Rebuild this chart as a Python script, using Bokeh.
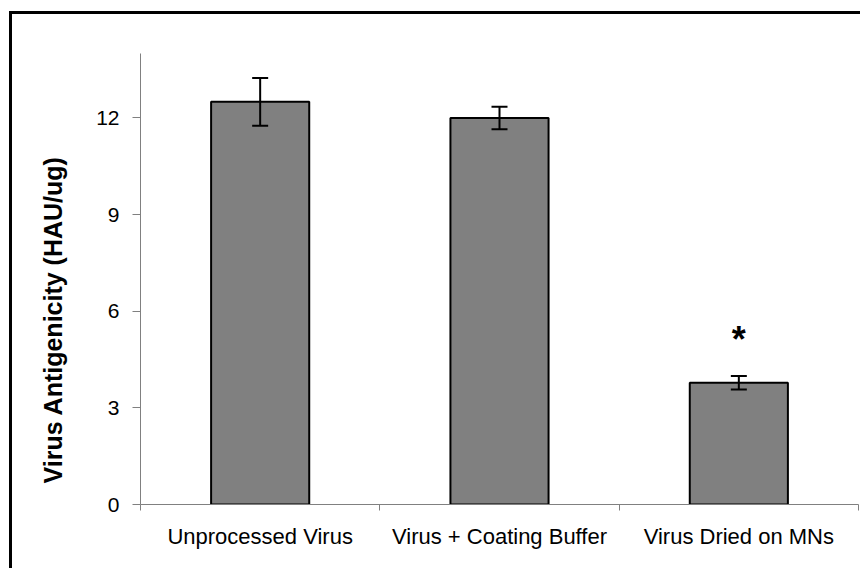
import numpy as np
from bokeh.plotting import figure
from bokeh.models import (Range1d, FixedTicker, ColumnDataSource, Whisker, TeeHead, Title)
from bokeh.core.properties import value
from bokeh.embed import file_html
from bokeh.resources import INLINE

# ---- data ----
categories = ["Unprocessed Virus", "Virus + Coating Buffer", "Virus Dried on MNs"]
means = [12.5, 12.0, 3.78]
errors = [0.74, 0.35, 0.21]
markers = ["", "", "*"]
y_ticks = [0, 3, 6, 9, 12]
y_label = "Virus Antigenicity (HAU/ug)"

FONT = "Liberation Sans"

xc = np.arange(len(categories)) + 0.5
m = np.array(means)
e = np.array(errors)
src = ColumnDataSource(dict(x=xc, top=m, upper=m + e, lower=m - e,
                            mark=markers, mark_y=m + e + 1.12))

p = figure(width=851, height=557, x_range=Range1d(0, 3), y_range=Range1d(0, 14),
           output_backend="svg", toolbar_location=None,
           min_border_left=128, min_border_right=5, min_border_top=39, min_border_bottom=67,
           margin=(11, 0, 0, 9),
           styles={"border-left": "3px solid black", "border-top": "3px solid black"})
p.outline_line_color = None
p.xgrid.visible = False
p.ygrid.visible = False
p.background_fill_color = "white"

p.vbar(x="x", top="top", width=0.41, bottom=0, source=src,
       fill_color="#808080", line_color="black", line_width=2)

w = Whisker(base="x", upper="upper", lower="lower", source=src,
            line_color="black", line_width=2, level="overlay",
            upper_head=TeeHead(size=16, line_color="black", line_width=2),
            lower_head=TeeHead(size=16, line_color="black", line_width=2))
p.add_layout(w)

p.text(x="x", y="mark_y", text="mark", source=src, text_align="center",
       text_baseline="alphabetic", text_font=value(FONT), text_font_size="36px",
       text_font_style="bold", text_color="black")

# y axis
ya = p.yaxis[0]
ya.ticker = FixedTicker(ticks=y_ticks)
ya.axis_line_color = "#808080"
ya.major_tick_line_color = "#808080"
ya.major_tick_out = 8
ya.major_tick_in = 0
ya.minor_tick_line_color = None
ya.major_label_text_font = FONT
ya.major_label_text_font_size = "21px"
ya.major_label_text_color = "black"
ya.major_label_standoff = 13

# x axis
xa = p.xaxis[0]
xa.ticker = FixedTicker(ticks=list(xc), minor_ticks=list(range(len(categories) + 1)))
xa.major_label_overrides = {float(x): c for x, c in zip(xc, categories)}
xa.axis_line_color = "#808080"
xa.major_tick_line_color = None
xa.major_tick_out = 0
xa.major_tick_in = 0
xa.minor_tick_line_color = "#808080"
xa.minor_tick_out = 6
xa.minor_tick_in = 0
xa.major_label_text_font = FONT
xa.major_label_text_font_size = "22px"
xa.major_label_text_color = "black"
xa.major_label_standoff = 13

t = Title(text=y_label, align="left", offset=21, standoff=50, vertical_align="top",
          text_font=FONT, text_font_size="25px", text_font_style="bold",
          text_color="black")
p.add_layout(t, "left")

open("out.html", "w").write(file_html(p, INLINE))
